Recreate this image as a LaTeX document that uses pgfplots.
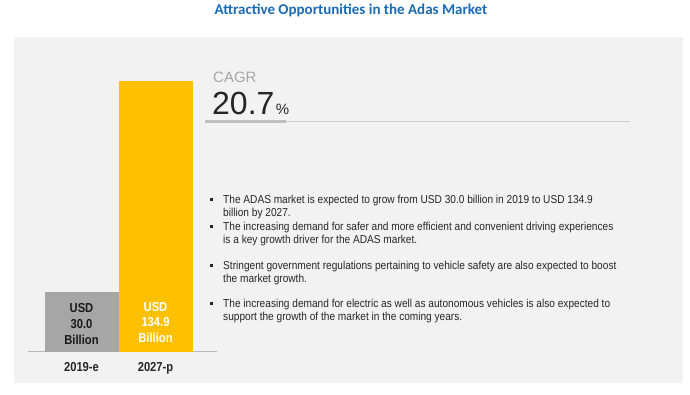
\documentclass[border=0pt]{standalone}
\usepackage{fontspec}
\setmainfont{Liberation Sans}
\newfontfamily\narrow[FakeStretch=0.86]{Liberation Sans}
\newfontfamily\bodyfont[FakeStretch=0.88]{Liberation Sans}
\newfontfamily\titlefont{Carlito}
\usepackage{pgfplots}
\pgfplotsset{compat=1.18}
\definecolor{titleblue}{HTML}{1A6BB5}
\definecolor{panel}{HTML}{F2F2F2}
\definecolor{bargray}{HTML}{A6A6A6}
\definecolor{baryellow}{HTML}{FFC000}
\definecolor{txt}{HTML}{262626}
\begin{document}
\begin{tikzpicture}[x=1pt,y=1pt]
\fill[white] (0,0) rectangle (690,395);
\fill[panel] (14,12) rectangle (683,358);
\node[anchor=base, text=titleblue, font=\titlefont\bfseries\fontsize{15}{18}\selectfont, inner sep=0pt] at (351,380) {Attractive Opportunities in the Adas Market};
\begin{axis}[
  at={(28pt,43pt)}, anchor=south west,
  scale only axis, width=189pt, height=281.26pt,
  xmin=-0.723, xmax=1.831, ymin=0, ymax=140,
  hide y axis,
  axis x line*=bottom,
  axis line style={color=bargray!80, line width=1pt},
  xtick={0,1}, xticklabels={2019-e,2027-p},
  major tick length=0pt,
  xticklabel style={font=\narrow\bfseries\fontsize{13}{15}\selectfont, text=txt, anchor=base, yshift=-20pt, inner sep=0pt},
  clip=false,
]
\addplot[ybar, bar shift=0pt, bar width=74pt, fill=bargray, draw=none] coordinates {(0,30.0)};
\addplot[ybar, bar shift=0pt, bar width=74pt, fill=baryellow, draw=none] coordinates {(1,134.9)};
\end{axis}
% bar value labels
\begin{scope}[every node/.style={anchor=base, inner sep=0pt, font=\narrow\bfseries\fontsize{13}{15}\selectfont}]
\node[text=black!90] at (81.5,82) {USD};
\node[text=black!90] at (81.5,66) {30.0};
\node[text=black!90] at (81.5,50) {Billion};
\node[text=white] at (155.5,83) {USD};
\node[text=white] at (155.5,68) {134.9};
\node[text=white] at (155.5,52) {Billion};
\end{scope}
% CAGR
\node[anchor=base west, inner sep=0pt, text=bargray, font=\fontsize{15}{18}\selectfont] at (213,312) {CAGR};
\node[anchor=base west, inner sep=0pt, text=txt, font=\fontsize{32}{36}\selectfont] at (212,280) {20.7\kern1.5pt{\fontsize{15}{18}\selectfont\%}};
\draw[line width=3pt, color=black!25] (205,273.3) -- (286,273.3);
\draw[line width=1pt, color=black!20] (286,273) -- (630,273);
% bullets
\begin{scope}[every node/.style={anchor=base west, inner sep=0pt, text=txt, font=\bodyfont\fontsize{11.5}{13.5}\selectfont}]
\node at (210,194) {\rule{3pt}{3pt}};
\node at (223,191) {The ADAS market is expected to grow from USD 30.0 billion in 2019 to USD 134.9};
\node at (223,178) {billion by 2027.};
\node at (210,167) {\rule{3pt}{3pt}};
\node at (223,164) {The increasing demand for safer and more efficient and convenient driving experiences};
\node at (223,151) {is a key growth driver for the ADAS market.};
\node at (210,128) {\rule{3pt}{3pt}};
\node at (223,125) {Stringent government regulations pertaining to vehicle safety are also expected to boost};
\node at (223,112) {the market growth.};
\node at (210,90) {\rule{3pt}{3pt}};
\node at (223,87) {The increasing demand for electric as well as autonomous vehicles is also expected to};
\node at (223,74) {support the growth of the market in the coming years.};
\end{scope}
\end{tikzpicture}
\end{document}
